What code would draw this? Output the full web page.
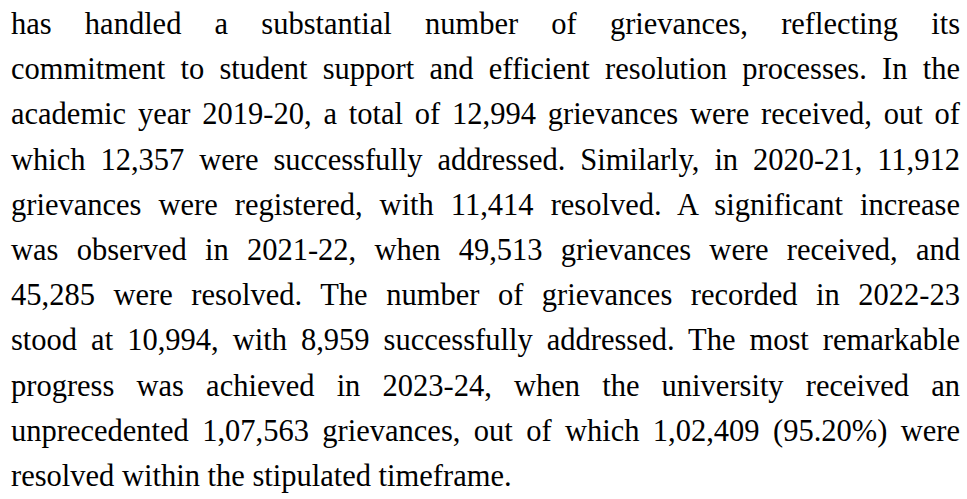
<!DOCTYPE html>
<html>
<head>
<meta charset="utf-8">
<script src="https://cdn.jsdelivr.net/npm/chart.js@4"></script>
<style>
  html, body { margin: 0; padding: 0; background: #fff; }
  body { width: 967px; height: 499px; overflow: hidden; }
  #para {
    position: absolute; left: 11px; top: 2px; width: 949px;
    font-family: "Liberation Serif", serif; font-size: 30.5px; line-height: 45.2px;
    color: #000;
  }
  .ln { white-space: nowrap; text-align: justify; text-align-last: justify; }
  .ln.last { text-align-last: left; }
</style>
</head>
<body>
<div id="para"></div>
<script>
const years = ["2019-20", "2020-21", "2021-22", "2022-23", "2023-24"];
const received = [12994, 11912, 49513, 10994, 107563];
const resolved = [12357, 11414, 45285, 8959, 102409];
const resolvedPct = ["95.20"];

// indian digit grouping, e.g. 1,07,563
function fmt(n){
    let s = String(n);
    if (s.length <= 3) return s;
    let last = s.slice(-3), rest = s.slice(0, -3);
    rest = rest.replace(/\B(?=(\d{2})+(?!\d))/g, ",");
    return rest + "," + last;
}

const lines = [
    "has handled a substantial number of grievances, reflecting its",
    "commitment to student support and efficient resolution processes. In the",
    `academic year ${years[0]}, a total of ${fmt(received[0])} grievances were received, out of`,
    `which ${fmt(resolved[0])} were successfully addressed. Similarly, in ${years[1]}, ${fmt(received[1])}`,
    `grievances were registered, with ${fmt(resolved[1])} resolved. A significant increase`,
    `was observed in ${years[2]}, when ${fmt(received[2])} grievances were received, and`,
    `${fmt(resolved[2])} were resolved. The number of grievances recorded in ${years[3]}`,
    `stood at ${fmt(received[3])}, with ${fmt(resolved[3])} successfully addressed. The most remarkable`,
    `progress was achieved in ${years[4]}, when the university received an`,
    `unprecedented ${fmt(received[4])} grievances, out of which ${fmt(resolved[4])} (${resolvedPct[0]}%) were`,
    "resolved within the stipulated timeframe."
];

const para = document.getElementById("para");
lines.forEach((t, i) => {
    const d = document.createElement("div");
    d.className = "ln" + (i === lines.length - 1 ? " last" : "");
    d.textContent = t;
    para.appendChild(d);
});
</script>
</body>
</html>
